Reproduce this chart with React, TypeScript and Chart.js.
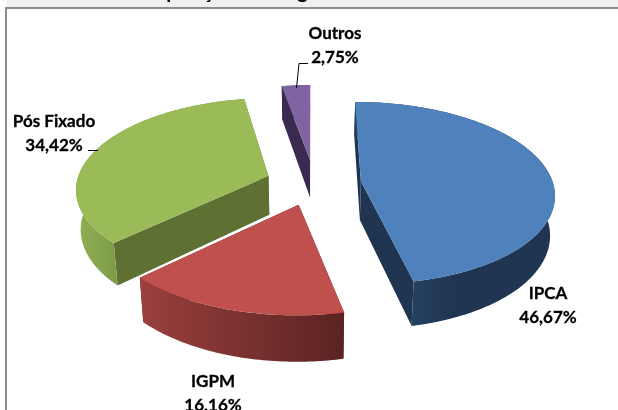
import React, { useEffect, useRef } from "react";
import { Chart, registerables } from "chart.js";

Chart.register(...registerables);

const categories = ["IPCA", "IGPM", "Pós Fixado", "Outros"];
const shares = [46.67, 16.16, 34.42, 2.75];
const titleText = "Composição dos Segmentos";

const topColors = ["#4F81BD", "#C0504D", "#9BBB59", "#8064A2"];
const edgeColors = ["#1F3552", "#5A2423", "#5E7133", "#3A2A50"];
const curveFrom = ["#1F3552", "#5A2322", "#7F9C49", "#3A2A50"];
const curveTo = ["#25405F", "#9B403D", "#90AF52", "#3A2A50"];
const curveHold = [0.7, 0, 0, 0];
const explodeX = [50, -12, -43, -1];
const explodeY = [-4, 45, -15, -51];
const labelX = [548, 213, 54, 335];
const labelY = [294, 382, 122, 34];

const TILT = 90;
const PERSPECTIVE = 0.13;
const DEPTH = 39;
const FOOT = 0.98;

const pie3d = {
  id: "pie3d",
  beforeDraw(chart: any) {
    const { ctx, width } = chart;
    ctx.save();
    ctx.fillStyle = "#ffffff";
    ctx.fillRect(0, 0, width, chart.height);
    ctx.fillStyle = "#F0F0F0";
    ctx.fillRect(7, 0, width - 7, 7);
    ctx.font = "bold 20px Lato";
    ctx.fillStyle = "#000000";
    ctx.textAlign = "left";
    ctx.textBaseline = "alphabetic";
    ctx.fillText(titleText, 125, -2);
    ctx.fillStyle = "#8C8C8C";
    ctx.fillRect(5, 7, width - 5, 2);
    ctx.fillRect(5, 7, 2, chart.height - 7);
    ctx.restore();
  },
  beforeDatasetDraw(chart: any) {
    const { ctx } = chart;
    const arcs = chart.getDatasetMeta(0).data;
    arcs.forEach((arc: any, i: number) => {
      const { x: cx, y: cy, outerRadius: R, startAngle, endAngle } = arc.getProps(
        ["x", "y", "outerRadius", "startAngle", "endAngle"],
        true
      );
      const project = (px: number, py: number, low: boolean) => {
        const q = py / R;
        const s = 1 / (1 - PERSPECTIVE * q);
        return [
          cx + px * s * (low ? FOOT : 1),
          cy + TILT * q * s + (low ? DEPTH * s : 0),
        ];
      };
      const rim = (a: number) => [
        explodeX[i] + R * Math.cos(a),
        explodeY[i] + R * Math.sin(a),
      ];
      const apex = [explodeX[i], explodeY[i]];
      const fillPoly = (pts: number[][], fill: any) => {
        ctx.beginPath();
        pts.forEach((pt, k) => (k ? ctx.lineTo(pt[0], pt[1]) : ctx.moveTo(pt[0], pt[1])));
        ctx.closePath();
        ctx.fillStyle = fill;
        ctx.fill();
      };
      const edges = [rim(startAngle), rim(endAngle)].sort((a, b) => a[1] - b[1]);
      edges.forEach((e) =>
        fillPoly(
          [
            project(apex[0], apex[1], false),
            project(e[0], e[1], false),
            project(e[0], e[1], true),
            project(apex[0], apex[1], true),
          ],
          edgeColors[i]
        )
      );
      const steps = Math.max(4, Math.ceil((endAngle - startAngle) / (Math.PI / 180)));
      const angles: number[] = [];
      for (let k = 0; k <= steps; k++) angles.push(startAngle + ((endAngle - startAngle) * k) / steps);
      const upper = angles.map((a) => {
        const r = rim(a);
        return project(r[0], r[1], false);
      });
      const lower = angles.map((a) => {
        const r = rim(a);
        return project(r[0], r[1], true);
      });
      const front = angles.filter((a) => Math.sin(a) > 0);
      const ends = (front.length > 1 ? front : angles).map((a) => {
        const r = rim(a);
        return project(r[0], r[1], false)[0];
      });
      const grad = ctx.createLinearGradient(ends[0], 0, ends[ends.length - 1], 0);
      grad.addColorStop(0, curveFrom[i]);
      grad.addColorStop(curveHold[i], curveFrom[i]);
      grad.addColorStop(1, curveTo[i]);
      fillPoly([...upper, ...lower.slice().reverse()], grad);
      fillPoly([project(apex[0], apex[1], false), ...upper], topColors[i]);
    });
    return false;
  },
  afterDraw(chart: any) {
    const { ctx } = chart;
    ctx.save();
    ctx.strokeStyle = "#000000";
    ctx.lineWidth = 1;
    ctx.beginPath();
    ctx.moveTo(296.5, 88);
    ctx.lineTo(299, 63.5);
    ctx.lineTo(308, 63.5);
    ctx.moveTo(88, 150.5);
    ctx.lineTo(98, 150.5);
    ctx.stroke();
    ctx.font = "bold 17px Lato";
    ctx.fillStyle = "#000000";
    ctx.lineWidth = 0.3;
    ctx.textAlign = "center";
    ctx.textBaseline = "middle";
    categories.forEach((name, i) => {
      const pct = `${shares[i].toFixed(2).replace(".", ",")}%`;
      ctx.fillText(name, labelX[i], labelY[i]);
      ctx.strokeText(name, labelX[i], labelY[i]);
      ctx.fillText(pct, labelX[i], labelY[i] + 24);
      ctx.strokeText(pct, labelX[i], labelY[i] + 24);
    });
    ctx.restore();
  },
};

export default function App() {
  const ref = useRef<HTMLCanvasElement>(null);
  useEffect(() => {
    document.body.style.margin = "0";
    const chart = new Chart(ref.current as HTMLCanvasElement, {
      type: "pie",
      data: {
        labels: categories,
        datasets: [{ data: shares, backgroundColor: topColors, borderWidth: 0, radius: 192 }],
      },
      options: {
        responsive: false,
        animation: false,
        layout: { padding: { left: 4, bottom: 44 } },
        plugins: { legend: { display: false }, tooltip: { enabled: false } },
      },
      plugins: [pie3d],
    } as any);
    return () => chart.destroy();
  }, []);
  return <canvas ref={ref} width={618} height={410} style={{ display: "block" }} />;
}
